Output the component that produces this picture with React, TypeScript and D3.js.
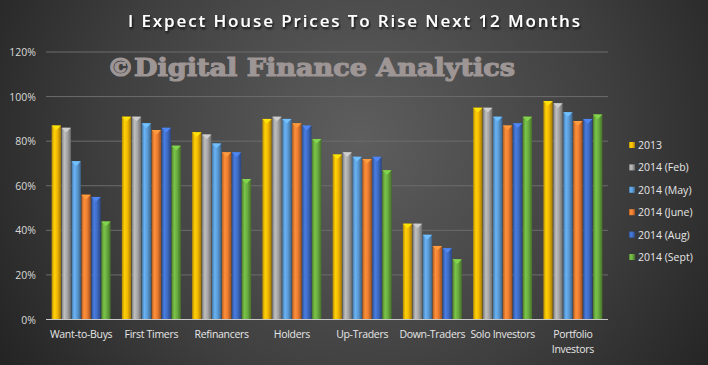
import { useRef, useEffect } from 'react'
import * as d3 from 'd3'

const categories = [
  'Want-to-Buys',
  'First Timers',
  'Refinancers',
  'Holders',
  'Up-Traders',
  'Down-Traders',
  'Solo Investors',
  'Portfolio Investors',
]
const seriesNames = ['2013', '2014 (Feb)', '2014 (May)', '2014 (June)', '2014 (Aug)', '2014 (Sept)']
const seriesColors = ['#f2b705', '#a6a6a6', '#5b9bd5', '#ed7d31', '#3f6cc4', '#6aab3f']

const v2013 = [87, 91, 84, 90, 74, 43, 95, 98]
const vFeb = [86, 91, 83, 91, 75, 43, 95, 97]
const vMay = [71, 88, 79, 90, 73, 38, 91, 93]
const vJune = [56, 85, 75, 88, 72, 33, 87, 89]
const vAug = [55, 86, 75, 87, 73, 32, 88, 90]
const vSept = [44, 78, 63, 81, 67, 27, 91, 92]
const seriesValues = [v2013, vFeb, vMay, vJune, vAug, vSept]

const yTicks = [0, 20, 40, 60, 80, 100, 120]

const W = 708
const H = 365

export default function App() {
  const ref = useRef<SVGSVGElement>(null)

  useEffect(() => {
    if (!ref.current) return
    const svg = d3.select(ref.current)
    svg.selectAll('*').remove()

    const defs = svg.append('defs')
    const bg = defs
      .append('radialGradient')
      .attr('id', 'bg')
      .attr('gradientUnits', 'userSpaceOnUse')
      .attr('cx', 360)
      .attr('cy', 140)
      .attr('r', 470)
    bg.append('stop').attr('offset', '0%').attr('stop-color', '#5e5e5e')
    bg.append('stop').attr('offset', '55%').attr('stop-color', '#3e3e3e')
    bg.append('stop').attr('offset', '100%').attr('stop-color', '#1c1c1c')

    seriesColors.forEach((c, i) => {
      const g = defs.append('linearGradient').attr('id', `bar${i}`).attr('x1', 0).attr('x2', 1).attr('y1', 0).attr('y2', 0)
      const base = d3.color(c)!
      g.append('stop').attr('offset', '0%').attr('stop-color', base.darker(0.8).formatHex())
      g.append('stop').attr('offset', '30%').attr('stop-color', base.brighter(0.4).formatHex())
      g.append('stop').attr('offset', '60%').attr('stop-color', c)
      g.append('stop').attr('offset', '100%').attr('stop-color', base.darker(1.2).formatHex())
    })

    const shadow = defs.append('filter').attr('id', 'tshadow').attr('x', '-5%').attr('y', '-30%').attr('width', '110%').attr('height', '160%')
    shadow.append('feDropShadow').attr('dx', 1).attr('dy', 2).attr('stdDeviation', 1.2).attr('flood-color', '#000').attr('flood-opacity', 0.8)

    svg.append('rect').attr('width', W).attr('height', H).attr('fill', 'url(#bg)')

    const left = 46
    const right = 608
    const top = 52
    const bottom = 319.5

    const y = d3.scaleLinear().domain([0, 120]).range([bottom, top])
    const x0 = d3.scaleBand<string>().domain(categories).range([left, right]).paddingInner(0.16).paddingOuter(0.08)
    const x1 = d3.scaleBand<string>().domain(seriesNames).range([0, x0.bandwidth()]).paddingInner(0.06)

    // gridlines
    svg
      .append('g')
      .selectAll('line')
      .data(yTicks.filter(t => t > 0))
      .enter()
      .append('line')
      .attr('x1', left)
      .attr('x2', right)
      .attr('y1', d => y(d))
      .attr('y2', d => y(d))
      .attr('stroke', '#6c6c6c')
      .attr('stroke-width', 1)

    svg
      .append('g')
      .selectAll('text')
      .data(yTicks)
      .enter()
      .append('text')
      .attr('x', 36)
      .attr('y', d => y(d) + 4)
      .attr('text-anchor', 'end')
      .attr('font-family', 'Open Sans, sans-serif')
      .attr('font-size', 10.5)
      .attr('fill', '#d9d9d9')
      .text(d => `${d}%`)

    // watermark
    svg
      .append('text')
      .attr('x', 107)
      .attr('y', 76)
      .attr('font-family', 'DejaVu Serif, serif')
      .attr('font-weight', 'bold')
      .attr('font-size', 25)
      .attr('textLength', 408)
      .attr('lengthAdjust', 'spacingAndGlyphs')
      .attr('fill', '#9e9595')
      .attr('stroke', '#9e9595')
      .attr('stroke-width', 1.2)
      .text('©Digital Finance Analytics')

    // bars
    const groups = svg
      .append('g')
      .selectAll('g')
      .data(categories)
      .enter()
      .append('g')
      .attr('transform', d => `translate(${x0(d)},0)`)

    seriesNames.forEach((s, si) => {
      const bw = x1.bandwidth()
      groups
        .append('rect')
        .attr('x', x1(s)!)
        .attr('y', (_, ci) => y(seriesValues[si][ci]))
        .attr('width', bw)
        .attr('height', (_, ci) => bottom - y(seriesValues[si][ci]))
        .attr('fill', `url(#bar${si})`)
      groups
        .append('path')
        .attr('d', (_, ci) => {
          const xs = x1(s)!
          const yt = y(seriesValues[si][ci])
          return `M${xs},${yt}L${xs + bw},${yt}L${xs + bw / 2},${yt + bw / 2}Z`
        })
        .attr('fill', d3.color(seriesColors[si])!.brighter(0.6).formatHex())
    })

    // axis baseline
    svg
      .append('line')
      .attr('x1', left)
      .attr('x2', right)
      .attr('y1', bottom)
      .attr('y2', bottom)
      .attr('stroke', '#c8c8c8')
      .attr('stroke-width', 1.2)

    // category labels
    const catLabels = svg
      .append('g')
      .selectAll('text')
      .data(categories)
      .enter()
      .append('text')
      .attr('x', d => x0(d)! + x0.bandwidth() / 2)
      .attr('y', 338)
      .attr('text-anchor', 'middle')
      .attr('font-family', 'Open Sans, sans-serif')
      .attr('font-size', 10.5)
      .attr('letter-spacing', -0.3)
      .attr('fill', '#e6e6e6')
    catLabels.each(function (d) {
      const t = d3.select(this)
      const parts = d === 'Portfolio Investors' ? ['Portfolio', 'Investors'] : [d]
      parts.forEach((p, i) => {
        t.append('tspan')
          .attr('x', x0(d)! + x0.bandwidth() / 2)
          .attr('dy', i === 0 ? 0 : 15)
          .text(p)
      })
    })

    // legend
    const lg = svg
      .append('g')
      .selectAll('g')
      .data(seriesNames)
      .enter()
      .append('g')
      .attr('transform', (_, i) => `translate(629,${145 + i * 22.4})`)
    lg.append('rect')
      .attr('x', 0)
      .attr('y', -3)
      .attr('width', 6)
      .attr('height', 6)
      .attr('fill', (_, i) => `url(#bar${i})`)
    lg.append('text')
      .attr('x', 9)
      .attr('y', 4)
      .attr('font-family', 'Open Sans, sans-serif')
      .attr('font-size', 10.5)
      .attr('fill', '#e6e6e6')
      .text(d => d)

    // title
    svg
      .append('text')
      .attr('x', W / 2)
      .attr('y', 27)
      .attr('text-anchor', 'middle')
      .attr('font-family', 'Open Sans, sans-serif')
      .attr('font-weight', 600)
      .attr('font-size', 17)
      .attr('textLength', 452)
      .attr('lengthAdjust', 'spacing')
      .attr('fill', '#ffffff')
      .attr('filter', 'url(#tshadow)')
      .text('I Expect House Prices To Rise Next 12 Months')
  }, [])

  return (
    <svg
      ref={ref}
      width={W}
      height={H}
      style={{ position: 'absolute', left: 0, top: 0, display: 'block' }}
    />
  )
}
